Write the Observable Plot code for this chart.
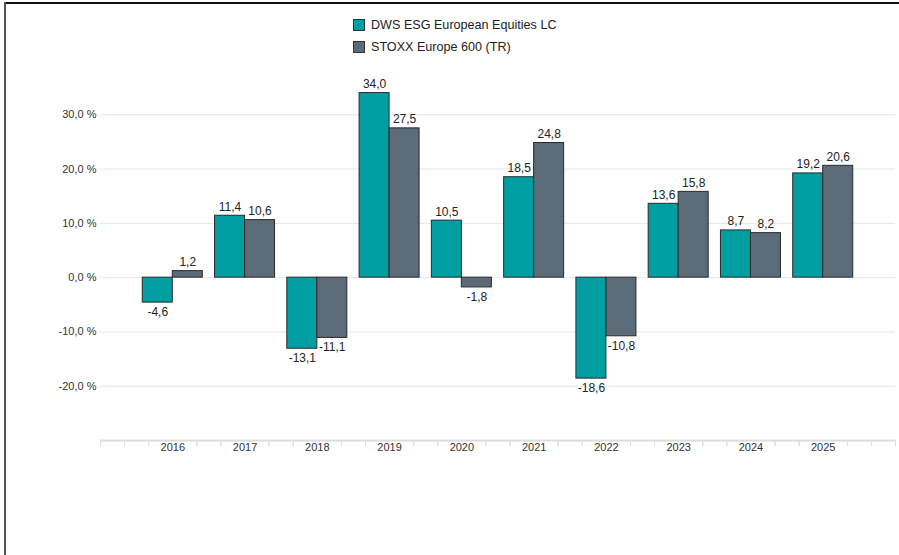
<!DOCTYPE html>
<html>
<head>
<meta charset="utf-8">
<script src="https://cdn.jsdelivr.net/npm/d3@7"></script>
<script src="https://cdn.jsdelivr.net/npm/@observablehq/plot@0.6"></script>
<style>
  body { margin: 0; background: #fff; font-family: "Liberation Sans", Arial, sans-serif; }
  #wrap { position: relative; width: 899px; height: 555px; overflow: hidden; background: #fff; }
  .bTop { position: absolute; top: 2px; left: 4px; right: 0; height: 2px; background: #111; }
  .bLeft { position: absolute; top: 2px; left: 4px; bottom: 0; width: 2px; background: #555; }
  #legend { position: absolute; left: 353px; top: 14px; font-size: 12.6px; color: #222; }
  .item { display: flex; align-items: center; height: 22px; }
  .sw { width: 10px; height: 10px; border: 1px solid #333; margin-right: 6px; }
  #chart { position: absolute; left: 0; top: 55px; }
</style>
</head>
<body>
<div id="wrap">
  <div class="bTop"></div>
  <div class="bLeft"></div>
  <div id="legend"></div>
  <div id="chart"></div>
</div>
<script>
const years = [2016, 2017, 2018, 2019, 2020, 2021, 2022, 2023, 2024, 2025];
const seriesNames = ["DWS ESG European Equities LC", "STOXX Europe 600 (TR)"];
const dwsValues = [-4.6, 11.4, -13.1, 34.0, 10.5, 18.5, -18.6, 13.6, 8.7, 19.2];
const stoxxValues = [1.2, 10.6, -11.1, 27.5, -1.8, 24.8, -10.8, 15.8, 8.2, 20.6];
const yTicks = [-20, -10, 0, 10, 20, 30];
const colors = ["#009ea0", "#5b6b77"];

const dws = years.map((year, i) => ({year, value: dwsValues[i], series: seriesNames[0]}));
const stoxx = years.map((year, i) => ({year, value: stoxxValues[i], series: seriesNames[1]}));

const fmt = v => v.toFixed(1).replace(".", ",");

// legend
const legend = document.getElementById("legend");
seriesNames.forEach((name, i) => {
  const row = document.createElement("div");
  row.className = "item";
  const sw = document.createElement("span");
  sw.className = "sw";
  sw.style.background = colors[i];
  const label = document.createElement("span");
  label.textContent = name;
  row.appendChild(sw);
  row.appendChild(label);
  legend.appendChild(row);
});

const inner = 36.13, outer = 6.13;
const labelStyle = {fontSize: 12, fill: "#222"};

function labels(data, dx) {
  return [
    Plot.text(data.filter(d => d.value >= 0), {x: "year", y: "value", text: d => fmt(d.value), dx, dy: -5, lineAnchor: "bottom", ...labelStyle}),
    Plot.text(data.filter(d => d.value < 0), {x: "year", y: "value", text: d => fmt(d.value), dx, dy: 5, lineAnchor: "top", ...labelStyle})
  ];
}

const minorTick = dx => Plot.ruleX(years, {x: d => d, y1: () => -30, y2: () => -30, insetBottom: -6, dx, stroke: "#dddddd", strokeWidth: 1});

const chart = Plot.plot({
  width: 899,
  height: 500,
  marginLeft: 100,
  marginRight: 4,
  marginTop: 5,
  marginBottom: 115,
  style: {fontFamily: "Liberation Sans, Arial, sans-serif", fontSize: "11px", color: "#333", background: "transparent"},
  x: {type: "band", domain: years, round: false, paddingInner: 0, paddingOuter: 0.5, tickSize: 0, tickPadding: 3, label: null, tickFormat: d => String(d)},
  y: {domain: [-30, 40], ticks: yTicks, tickFormat: d => fmt(d) + " %", tickSize: 0, tickPadding: 4, label: null},
  marks: [
    Plot.ruleY(yTicks, {stroke: "#e6e6e6", strokeWidth: 1}),
    Plot.ruleY([-30], {stroke: "#dcdcdc", strokeWidth: 2}),
    minorTick(-48.18), minorTick(-24.09), minorTick(24.09), minorTick(48.18),
    Plot.ruleX([years[0]], {x: d => d, y1: () => -30, y2: () => -30, insetBottom: -6, dx: -72.27, stroke: "#dddddd"}),
    Plot.ruleX([years[years.length - 1]], {x: d => d, y1: () => -30, y2: () => -30, insetBottom: -6, dx: 72.27, stroke: "#dddddd"}),
    Plot.barY(dws, {x: "year", y: "value", fill: colors[0], stroke: "#2a2a2a", strokeWidth: 1, insetLeft: outer, insetRight: inner}),
    Plot.barY(stoxx, {x: "year", y: "value", fill: colors[1], stroke: "#2a2a2a", strokeWidth: 1, insetLeft: inner, insetRight: outer}),
    ...labels(dws, -15),
    ...labels(stoxx, 15)
  ]
});
document.getElementById("chart").appendChild(chart);
</script>
</body>
</html>
